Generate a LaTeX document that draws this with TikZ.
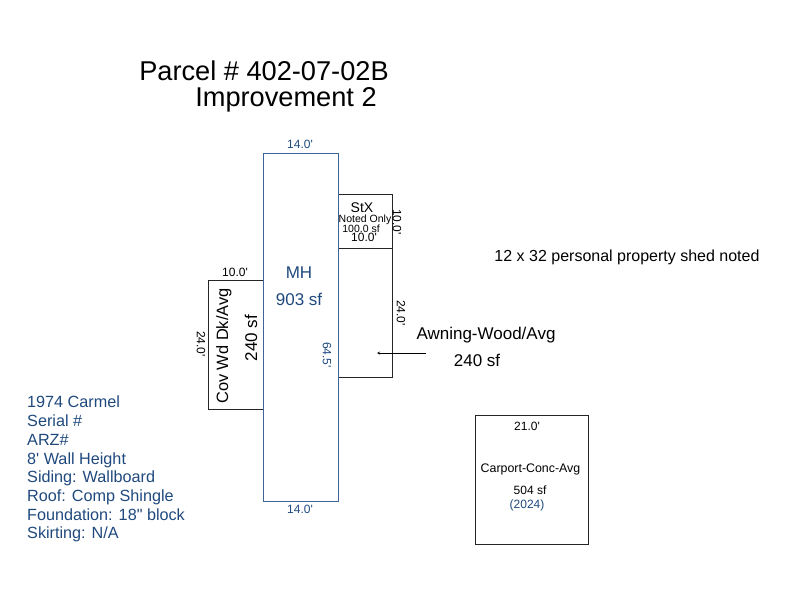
\documentclass[tikz,border=0pt]{standalone}
\usepackage{fontspec}
\setmainfont{Liberation Sans}[Ligatures=TeXOff]
\usetikzlibrary{arrows}
\definecolor{mhblue}{RGB}{31,73,125}
\definecolor{wallblue}{RGB}{60,100,150}

\begin{document}
\begin{tikzpicture}[
            x = 1pt, y = -1pt,
            > = stealth, % arrow head style
            thin
        ]

        \tikzstyle{every node}=[inner sep = 0pt, text = black]
        \tikzstyle{dim}=[font = \fontsize{12}{14}\selectfont]
        \tikzstyle{dimblue}=[dim, text = mhblue]
        \tikzstyle{area}=[font = \fontsize{17}{20}\selectfont]
        \tikzstyle{areablue}=[area, text = mhblue]
        \tikzstyle{title}=[font = \fontsize{27.2}{32}\selectfont]
        \tikzstyle{wall}=[draw = black!85, line width = 1.1pt]
        \tikzstyle{mhwall}=[draw = wallblue, line width = 1.1pt]

        \useasboundingbox (0,0) rectangle (800,600);

        % titles
        \node[title] (parcel) at (264,71) {Parcel \# 402-07-02B};
        \node[title] (improve) at (286,100) {Improvement 2};
        \node[font=\fontsize{16}{19}\selectfont] (shed) at (627,257) {12 x 32 personal property shed noted};

        % attached parts first, main unit on top
        \draw[wall] (338.2,194.2) rectangle (392.2,248.2);
        \draw[wall] (338.2,248.2) rectangle (392.2,377.2);
        \draw[wall] (208.2,280.2) rectangle (263.2,409.2);
        \draw[wall] (475.2,415.2) rectangle (588.2,544.2);
        \draw[mhwall] (263.2,153.2) rectangle (338.2,501.2);

        % MH
        \node[dimblue] (mhtop) at (300,144) {14.0'};
        \node[dimblue] (mhbot) at (300,509) {14.0'};
        \node[dimblue, rotate=-90] (mhside) at (327,355) {64.5'};
        \node[areablue] (mh) at (299,273) {MH};
        \node[areablue] (mharea) at (299,299) {903 sf};

        % StX
        \node[font=\fontsize{14}{16}\selectfont] (stx) at (362,208) {StX};
        \node[font=\fontsize{10.5}{12}\selectfont] (noted) at (365,220) {Noted Only};
        \node[font=\fontsize{10.5}{12}\selectfont] (stxarea) at (361,229) {100.0 sf};
        \node[dim] (stxtop) at (364,237) {10.0'};
        \node[dim, rotate=-90] (stxside) at (397,222) {10.0'};

        % awning
        \node[dim, rotate=-90] (awnside) at (401,313) {24.0'};
        \node[area] (awn) at (486,335) {Awning-Wood/Avg};
        \node[area] (awnarea) at (477,360) {240 sf};
        \coordinate (awntail) at (426,353);
        \coordinate (awntip) at (377,353);
        \draw[->] (awntail) -- (awntip);

        % covered deck
        \node[dim] (covtop) at (235,272) {10.0'};
        \node[dim, rotate=-90] (covside) at (201,344) {24.0'};
        \node[font=\fontsize{16.4}{19}\selectfont, rotate=90] (cov) at (224,346) {Cov Wd Dk/Avg};
        \node[area, rotate=90] (covarea) at (251,338) {240 sf};

        % carport
        \node[dim] (cartop) at (527,426) {21.0'};
        \node[font=\fontsize{12.4}{14}\selectfont] (car) at (530.5,469) {Carport-Conc-Avg};
        \node[dim] (cararea) at (530,490) {504 sf};
        \node[dimblue] (caryear) at (527,505) {(2024)};

        % notes
        \node[areablue, anchor=north west, align=left,
              font=\fontsize{16.2}{18.7}\selectfont] (notes) at (27,396) {1974 Carmel\\
            Serial \#\\
            ARZ\#\\
            8' Wall Height\\
            Siding: Wallboard\\
            Roof: Comp Shingle\\
            Foundation: 18" block\\
            Skirting: N/A};

  \end{tikzpicture}
\end{document}
